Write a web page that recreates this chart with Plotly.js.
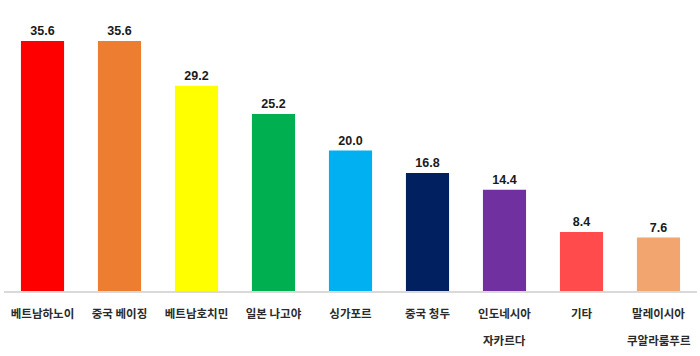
<!DOCTYPE html>
<html><head><meta charset="utf-8">
<script src="https://cdn.plot.ly/plotly-3.0.1.min.js"></script>
<style>html,body{margin:0;padding:0;background:#fff}#chart{width:700px;height:356px}</style>
</head><body><div id="chart"></div>
<script>
const categories = ["베트남하노이","중국 베이징","베트남호치민","일본 나고야","싱가포르","중국 청두","인도네시아","기타","말레이시아"];
const secondLines = ["","","","","","","자카르다","","쿠알라룸푸르"];
const values = [35.6, 35.6, 29.2, 25.2, 20.0, 16.8, 14.4, 8.4, 7.6];
const valueLabels = ["35.6","35.6","29.2","25.2","20.0","16.8","14.4","8.4","7.6"];
const colors = ["#FF0000","#ED7D31","#FFFF00","#00B050","#00B0F0","#002060","#7030A0","#FF4B4B","#F2A56E"];

const labelFont = {family: "Noto Sans CJK KR, sans-serif", size: 11.5, color: "#2b2b2b", weight: "bold"};
const annotations = secondLines.map((t, i) => ({
  x: categories[i], y: 0, xref: "x", yref: "y", text: t, showarrow: false,
  yanchor: "top", yshift: -39, font: labelFont
})).filter(a => a.text);

Plotly.newPlot("chart", [{
  type: "bar",
  x: categories,
  y: values,
  text: valueLabels,
  texttemplate: "%{text}",
  textposition: "outside",
  cliponaxis: false,
  textfont: {family: "Liberation Sans Narrow, Liberation Sans, sans-serif", size: 12.5, color: "#1a1a1a", weight: "bold"},
  marker: {color: colors, line: {width: 0}},
  hoverinfo: "none"
}], {
  width: 700, height: 356,
  margin: {l: 4, r: 3, t: 10, b: 65},
  paper_bgcolor: "#fff", plot_bgcolor: "#fff",
  bargap: 0.44,
  showlegend: false,
  annotations: annotations,
  xaxis: {
    showline: true, linecolor: "#d9d9d9", linewidth: 1.5,
    ticks: "", ticklen: 0, ticklabelstandoff: 12,
    tickfont: labelFont,
    fixedrange: true
  },
  yaxis: {range: [0, 40], visible: false, showgrid: false, zeroline: false, fixedrange: true}
}, {displayModeBar: false, staticPlot: true});
</script></body></html>
